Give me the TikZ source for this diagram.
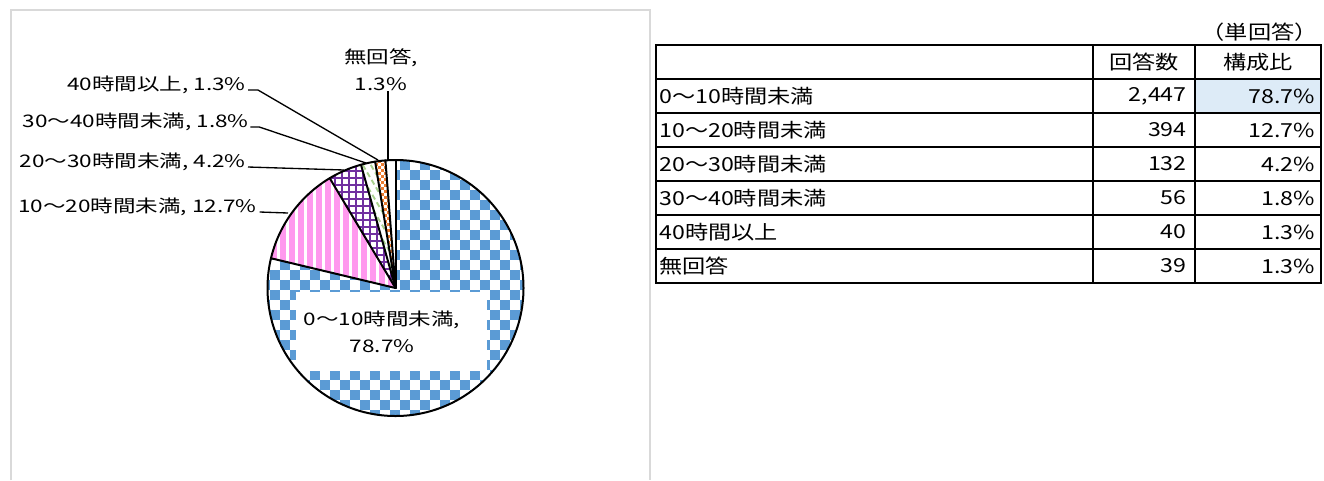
\documentclass[tikz,border=0pt]{standalone}
\usepackage{fontspec}
\newfontfamily\jpa[FakeStretch=1.3]{Noto Sans CJK JP}
\newfontfamily\jpb[FakeStretch=1.2]{Noto Sans CJK JP}
\definecolor{pieblue}{HTML}{5B9BD5}
\definecolor{piepink}{HTML}{FF99EE}
\definecolor{piepurple}{HTML}{7030A0}
\definecolor{piegreen}{HTML}{A9D18E}
\definecolor{pieorange}{HTML}{ED7D31}
\definecolor{cellblue}{HTML}{DDEBF7}
\definecolor{framec}{HTML}{D9D9D9}
\def\cx{395.5}
\def\cy{288}
\def\R{128}
\newcommand\sectorclip[2]{\clip (\cx,\cy) -- plot[domain=#1:#2,samples=80] ({\cx+\R*cos(\x)},{\cy-\R*sin(\x)}) -- cycle;}
\newcommand\radial[1]{\draw[edge] (\cx,\cy) -- ({\cx+\R*cos(#1)},{\cy-\R*sin(#1)});}
\begin{document}
\begin{tikzpicture}[x=0.75pt,y=-0.75pt,
  lbl/.style={font=\jpa\fontsize{13}{20}\selectfont, inner sep=0pt},
  tx/.style={font=\jpb\fontsize{14.5}{17}\selectfont, inner sep=0pt},
  leader/.style={line width=1pt},
  edge/.style={line width=1.5pt, line cap=round},
  tbl/.style={line width=1.5pt}]
\useasboundingbox (0,0) rectangle (1324,480);
\fill[white] (0,0) rectangle (1324,480);
% chart frame
\draw[framec, line width=1.5pt] (11,480) -- (11,10) -- (650,10) -- (650,480);
% slice 0-10 : blue checker
\begin{scope}
\sectorclip{-193.44}{90}
\fill[white] (250,140) rectangle (540,430);
\foreach \px in {260,280,...,520}
  \foreach \py in {140,160,...,420}
  {\fill[pieblue] (\px,\py) rectangle ++(10,10);
   \fill[pieblue] (\px+10,\py+10) rectangle ++(10,10);}
\end{scope}
% slice 10-20 : pink stripes
\begin{scope}
\sectorclip{120.93}{166.56}
\fill[white] (250,140) rectangle (400,300);
\foreach \px in {262,271,...,400}
  \fill[piepink] (\px,140) rectangle ++(6,160);
\end{scope}
% slice 20-30 : purple grid
\begin{scope}
\sectorclip{105.64}{120.93}
\fill[white] (300,140) rectangle (400,300);
\foreach \px in {300,307,...,400}
  \draw[piepurple,line width=1.1pt] (\px,140) -- (\px,300);
\foreach \py in {150,157,...,300}
  \draw[piepurple,line width=1.1pt] (300,\py) -- (400,\py);
\end{scope}
% slice 30-40 : green dashes
\begin{scope}
\sectorclip{99.15}{105.64}
\fill[white] (340,140) rectangle (400,300);
\foreach \px in {250,258,...,400}
  \draw[piegreen,line width=1.4pt,dash pattern=on 4pt off 2.5pt] (\px,150) -- ++(80,136);
\end{scope}
% slice 40+ : orange checker
\begin{scope}
\sectorclip{94.52}{99.15}
\fill[white] (360,140) rectangle (400,300);
\foreach \px in {366,372,...,396}
  \foreach \py in {154,160,...,292}
  {\fill[pieorange] (\px,\py) rectangle ++(3,3);
   \fill[pieorange] (\px+3,\py+3) rectangle ++(3,3);}
\end{scope}
% slice none : white
\begin{scope}
\sectorclip{90}{94.52}
\fill[white] (380,140) rectangle (400,300);
\end{scope}
% label box of main slice
\fill[white] (296,292) rectangle (487,371);
% outlines
\draw[edge] (\cx,\cy) circle[radius=96pt];
\radial{90}
\radial{166.56}
\radial{120.93}
\radial{105.64}
\radial{99.15}
\radial{94.52}
\node[lbl, align=center] (l010) at (382,332) {0～10時間未満,\\78.7\%};
% outside labels
\node[lbl, align=center] (lnone) at (381,70) {無回答,\\1.3\%};
\node[lbl, anchor=base east] (l40) at (246,90) {40時間以上, 1.3\%};
\node[lbl, anchor=base east] (l3040) at (249,127) {30～40時間未満, 1.8\%};
\node[lbl, anchor=base east] (l2030) at (246,167) {20～30時間未満, 4.2\%};
\node[lbl, anchor=base east] (l1020) at (257,212) {10～20時間未満, 12.7\%};
\coordinate (enone) at (388,160);
\coordinate (e40) at (378,160);
\coordinate (e3040) at (366,163);
\coordinate (e2030) at (344,170);
\coordinate (e1020) at (288,213);
\draw[leader] (lnone.south -| enone) -- (enone);
\draw[leader] ([xshift=1.5pt]l40.base east) -- ++(10,0) -- (e40);
\draw[leader] ([xshift=1pt]l3040.base east) -- ++(9,0) -- (e3040);
\draw[leader] ([xshift=1.5pt]l2030.base east) -- (e2030);
\draw[leader] ([xshift=2pt]l1020.base east) -- (e1020);
% table
\fill[cellblue] (1195,79) rectangle (1321,113);
\draw[tbl] (656,45) rectangle (1321,283);
\foreach \ry in {79,113,147,181,215,249}
  \draw[tbl] (656,\ry) -- (1321,\ry);
\draw[tbl] (1093,45) -- (1093,283);
\draw[tbl] (1195,45) -- (1195,283);
\node[tx, anchor=east] (unit) at (1318,32) {（単回答）};
\node[tx] (h1) at (1144,62) {回答数};
\node[tx] (h2) at (1258,62) {構成比};
\node[tx, anchor=west] (r1) at (659,96) {0～10時間未満};
\node[tx, anchor=west] (r2) at (659,130) {10～20時間未満};
\node[tx, anchor=west] (r3) at (659,164) {20～30時間未満};
\node[tx, anchor=west] (r4) at (659,198) {30～40時間未満};
\node[tx, anchor=west] (r5) at (659,232) {40時間以上};
\node[tx, anchor=west] (r6) at (659,266) {無回答};
\node[tx, anchor=east] (n1) at (1187,96) {2,447};
\node[tx, anchor=east] (n2) at (1187,130) {394};
\node[tx, anchor=east] (n3) at (1187,164) {132};
\node[tx, anchor=east] (n4) at (1187,198) {56};
\node[tx, anchor=east] (n5) at (1187,232) {40};
\node[tx, anchor=east] (n6) at (1187,266) {39};
\node[tx, anchor=east] (p1) at (1315,96) {78.7\%};
\node[tx, anchor=east] (p2) at (1315,130) {12.7\%};
\node[tx, anchor=east] (p3) at (1315,164) {4.2\%};
\node[tx, anchor=east] (p4) at (1315,198) {1.8\%};
\node[tx, anchor=east] (p5) at (1315,232) {1.3\%};
\node[tx, anchor=east] (p6) at (1315,266) {1.3\%};
\end{tikzpicture}
\end{document}
